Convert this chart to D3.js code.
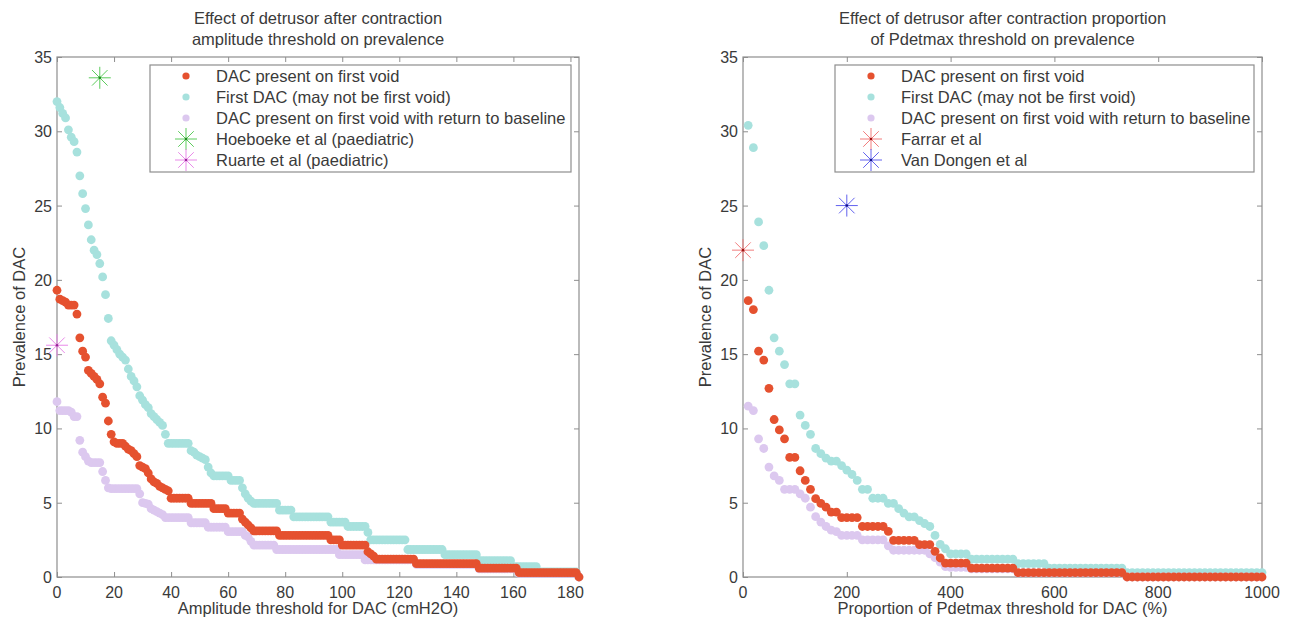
<!DOCTYPE html>
<html>
<head>
<meta charset="utf-8">
<script src="https://cdn.jsdelivr.net/npm/d3@7"></script>
<style>
  body { margin: 0; background: #fff; }
  svg { display: block; font-family: "Liberation Sans", Arial, sans-serif; }
</style>
</head>
<body>
<div id="container"></div>
<script>
// ---- data ----
const ampThresholds = d3.range(0, 184);   // cmH2O, 0..183
const redAmp = [
  19.3, 18.7, 18.6, 18.5, 18.3, 18.3, 18.3, 17.7, 16.1, 15.2,
  14.8, 13.9, 13.7, 13.5, 13.3, 13.0, 12.1, 11.7, 10.5, 9.6,
  9.1, 9.0, 9.0, 9.0, 8.8, 8.6, 8.5, 8.3, 8.1, 7.5,
  7.4, 7.3, 7.0, 6.6, 6.4, 6.3, 6.1, 6.0, 5.9, 5.8,
  5.3, 5.3, 5.3, 5.3, 5.3, 5.3, 5.3, 4.95, 4.95, 4.95,
  4.95, 4.95, 4.95, 4.95, 4.95, 4.6, 4.6, 4.6, 4.6, 4.6,
  4.3, 4.3, 4.3, 4.3, 4.3, 3.9, 3.7, 3.5, 3.3, 3.1,
  3.1, 3.1, 3.1, 3.1, 3.1, 3.1, 3.1, 3.1, 2.8, 2.8,
  2.8, 2.8, 2.8, 2.8, 2.8, 2.8, 2.8, 2.8, 2.8, 2.8,
  2.8, 2.8, 2.8, 2.8, 2.8, 2.8, 2.5, 2.5, 2.5, 2.5,
  2.15, 2.15, 2.15, 2.15, 2.15, 2.15, 2.15, 2.15, 2.15, 1.7,
  1.55, 1.4, 1.2, 1.2, 1.2, 1.2, 1.2, 1.2, 1.2, 1.2,
  1.2, 1.2, 1.2, 1.2, 1.2, 1.2, 0.9, 0.9, 0.9, 0.9,
  0.9, 0.9, 0.9, 0.9, 0.9, 0.9, 0.9, 0.9, 0.9, 0.9,
  0.9, 0.9, 0.9, 0.9, 0.9, 0.9, 0.9, 0.9, 0.6, 0.6,
  0.6, 0.6, 0.6, 0.6, 0.6, 0.6, 0.6, 0.6, 0.6, 0.6,
  0.6, 0.6, 0.3, 0.3, 0.3, 0.3, 0.3, 0.3, 0.3, 0.3,
  0.3, 0.3, 0.3, 0.3, 0.3, 0.3, 0.3, 0.3, 0.3, 0.3,
  0.3, 0.3, 0.3, 0
];
const cyanAmp = [
  32.0, 31.6, 31.2, 30.9, 30.1, 29.6, 29.3, 28.6, 27.0, 25.8,
  24.8, 23.7, 22.7, 22.0, 21.7, 21.1, 20.2, 19.0, 17.4, 15.9,
  15.6, 15.3, 15.0, 14.8, 14.6, 14.0, 13.5, 13.2, 12.8, 12.2,
  11.9, 11.6, 11.4, 11.0, 10.8, 10.6, 10.4, 10.2, 9.6, 9.0,
  9.0, 9.0, 9.0, 9.0, 9.0, 9.0, 9.0, 8.5, 8.4, 8.2,
  8.1, 8.0, 7.9, 7.4, 7.0, 6.8, 6.8, 6.8, 6.8, 6.8,
  6.8, 6.5, 6.5, 6.5, 6.5, 6.0, 5.6, 5.3, 5.1, 4.95,
  4.95, 4.95, 4.95, 4.95, 4.95, 4.95, 4.95, 4.95, 4.5, 4.5,
  4.5, 4.5, 4.5, 4.05, 4.05, 4.05, 4.05, 4.05, 4.05, 4.05,
  4.05, 4.05, 4.05, 4.05, 4.05, 4.05, 3.7, 3.7, 3.7, 3.7,
  3.7, 3.7, 3.4, 3.4, 3.4, 3.4, 3.4, 3.4, 3.4, 3.0,
  2.5, 2.5, 2.5, 2.5, 2.5, 2.5, 2.5, 2.5, 2.5, 2.5,
  2.5, 2.5, 2.5, 1.85, 1.85, 1.85, 1.85, 1.85, 1.85, 1.85,
  1.85, 1.85, 1.85, 1.85, 1.85, 1.85, 1.5, 1.5, 1.5, 1.5,
  1.5, 1.5, 1.5, 1.5, 1.5, 1.5, 1.5, 1.5, 1.1, 1.1,
  1.1, 1.1, 1.1, 1.1, 1.1, 1.1, 1.1, 1.1, 1.1, 1.1,
  0.7, 0.7, 0.7, 0.7, 0.7, 0.7, 0.7, 0.7, 0.7, 0.35,
  0.35, 0.35, 0.35, 0.35, 0.35, 0.35, 0.35, 0.35, 0.35, 0.35,
  0.35, 0.35, 0.35, 0
];
const purpleAmp = [
  11.8, 11.2, 11.2, 11.2, 11.2, 11.1, 10.8, 10.8, 9.2, 8.4,
  8.1, 7.8, 7.7, 7.7, 7.7, 7.7, 7.1, 6.5, 6.0, 5.95,
  5.95, 5.95, 5.95, 5.95, 5.95, 5.95, 5.95, 5.95, 5.95, 5.6,
  5.0, 4.95, 4.9, 4.6, 4.5, 4.4, 4.3, 4.2, 4.0, 4.0,
  4.0, 4.0, 4.0, 4.0, 4.0, 4.0, 4.0, 3.65, 3.65, 3.65,
  3.65, 3.65, 3.65, 3.35, 3.35, 3.35, 3.35, 3.35, 3.35, 3.35,
  3.05, 3.05, 3.05, 3.05, 3.05, 3.05, 2.8, 2.7, 2.4, 2.15,
  2.15, 2.15, 2.15, 2.15, 2.15, 2.15, 2.15, 1.85, 1.85, 1.85,
  1.85, 1.85, 1.85, 1.85, 1.85, 1.85, 1.85, 1.85, 1.85, 1.85,
  1.85, 1.85, 1.85, 1.85, 1.85, 1.85, 1.85, 1.85, 1.85, 1.5,
  1.5, 1.5, 1.5, 1.5, 1.5, 1.5, 1.5, 1.5, 1.15, 1.15,
  1.15, 1.15, 1.15, 1.15, 1.15, 1.15, 1.15, 1.15, 1.15, 1.15,
  1.15, 1.15, 1.15, 1.15, 1.15, 1.15, 0.85, 0.85, 0.85, 0.85,
  0.85, 0.85, 0.85, 0.85, 0.85, 0.85, 0.85, 0.85, 0.85, 0.85,
  0.85, 0.85, 0.85, 0.85, 0.85, 0.85, 0.85, 0.85, 0.55, 0.55,
  0.55, 0.55, 0.55, 0.55, 0.55, 0.55, 0.55, 0.55, 0.55, 0.55,
  0.55, 0.55, 0.25, 0.25, 0.25, 0.25, 0.25, 0.25, 0.25, 0.25,
  0.25, 0.25, 0.25, 0.25, 0.25, 0.25, 0.25, 0.25, 0.25, 0.25,
  0.25, 0.25, 0.25, 0
];

const pdetThresholds = d3.range(10, 1001, 10);   // % of Pdetmax, 10..1000
const redPdet = [
  18.6, 18.0, 15.2, 14.6, 12.7, 10.6, 9.9, 9.3, 8.05, 8.05,
  7.15, 6.5, 5.9, 5.27, 4.95, 4.7, 4.37, 4.37, 4.0, 4.0,
  4.0, 4.0, 3.4, 3.4, 3.4, 3.4, 3.4, 3.07, 2.47, 2.47,
  2.47, 2.47, 2.47, 2.18, 2.18, 2.18, 1.73, 1.28, 0.94, 0.94,
  0.94, 0.94, 0.94, 0.6, 0.6, 0.6, 0.6, 0.6, 0.6, 0.6,
  0.6, 0.6, 0.3, 0.3, 0.3, 0.3, 0.3, 0.3, 0.3, 0.3,
  0.3, 0.3, 0.3, 0.3, 0.3, 0.3, 0.3, 0.3, 0.3, 0.3,
  0.3, 0.3, 0.3, 0, 0, 0, 0, 0, 0, 0,
  0, 0, 0, 0, 0, 0, 0, 0, 0, 0,
  0, 0, 0, 0, 0, 0, 0, 0, 0, 0
];
const cyanPdet = [
  30.4, 28.9, 23.9, 22.3, 19.3, 16.1, 15.2, 14.3, 13.0, 13.0,
  10.9, 10.2, 9.6, 8.65, 8.3, 8.0, 7.8, 7.8, 7.5, 7.2,
  6.9, 6.5, 5.9, 5.9, 5.3, 5.3, 5.3, 4.95, 4.95, 4.6,
  4.3, 4.05, 4.05, 3.8, 3.6, 3.4, 2.8, 2.2, 1.9, 1.55,
  1.55, 1.55, 1.55, 1.2, 1.2, 1.2, 1.2, 1.2, 1.2, 1.2,
  1.2, 1.2, 0.9, 0.9, 0.9, 0.9, 0.9, 0.9, 0.6, 0.6,
  0.6, 0.6, 0.6, 0.6, 0.6, 0.6, 0.6, 0.6, 0.6, 0.6,
  0.6, 0.6, 0.6, 0.3, 0.3, 0.3, 0.3, 0.3, 0.3, 0.3,
  0.3, 0.3, 0.3, 0.3, 0.3, 0.3, 0.3, 0.3, 0.3, 0.3,
  0.3, 0.3, 0.3, 0.3, 0.3, 0.3, 0.3, 0.3, 0.3, 0.3
];
const purplePdet = [
  11.5, 11.2, 9.3, 8.65, 7.4, 6.8, 6.5, 5.9, 5.9, 5.9,
  5.6, 5.3, 4.7, 4.06, 3.7, 3.4, 3.15, 3.05, 2.8, 2.8,
  2.8, 2.8, 2.5, 2.5, 2.5, 2.5, 2.5, 2.1, 1.8, 1.8,
  1.8, 1.8, 1.8, 1.8, 1.8, 1.55, 1.3, 1.0, 0.7, 0.65,
  0.65, 0.65, 0.65, 0.55, 0.55, 0.55, 0.55, 0.55, 0.55, 0.55,
  0.55, 0.55, 0.28, 0.28, 0.28, 0.28, 0.28, 0.28, 0.28, 0.28,
  0.28, 0.28, 0.28, 0.28, 0.28, 0.28, 0.28, 0.28, 0.28, 0.28,
  0.28, 0.28, 0.28, 0, 0, 0, 0, 0, 0, 0,
  0, 0, 0, 0, 0, 0, 0, 0, 0, 0,
  0, 0, 0, 0, 0, 0, 0, 0, 0, 0
];

const seriesNames = [
  "DAC present on first void",
  "First DAC (may not be first void)",
  "DAC present on first void with return to baseline"
];
const yTicks = [0, 5, 10, 15, 20, 25, 30, 35];
const ampTicks = [0, 20, 40, 60, 80, 100, 120, 140, 160, 180];
const pdetTicks = [0, 200, 400, 600, 800, 1000];

// literature reference points
const ampRefs = [
  {name: "Hoeboeke et al (paediatric)", x: 15, y: 33.6, color: "#5ccc5c", dot: "#1a8a1a"},
  {name: "Ruarte et al (paediatric)", x: 0, y: 15.6, color: "#e98ae9", dot: "#9a209a"}
];
const pdetRefs = [
  {name: "Farrar et al", x: 0, y: 22, color: "#f27d7d", dot: "#a01010"},
  {name: "Van Dongen et al", x: 200, y: 25, color: "#6262ee", dot: "#10108a"}
];

const colors = {red: "#e5512f", cyan: "#a7e1dd", purple: "#dcc8ef"};
const axisColor = "#8e8e8e";
const textColor = "#3a3a3a";

const svg = d3.select("#container").append("svg")
    .attr("width", 1291)
    .attr("height", 620);

function star(g, cx, cy, r, color, dotColor) {
    const a = r * Math.SQRT1_2;
    g.append("path")
        .attr("d", `M${cx - r},${cy}H${cx + r}M${cx},${cy - r}V${cy + r}` +
                   `M${cx - a},${cy - a}L${cx + a},${cy + a}M${cx - a},${cy + a}L${cx + a},${cy - a}`)
        .attr("stroke", color)
        .attr("stroke-width", 1)
        .attr("fill", "none");
    g.append("circle")
        .attr("cx", cx).attr("cy", cy).attr("r", 1.3)
        .attr("fill", dotColor);
}

function panel(opts) {
    const {left, right, top, bottom} = opts;
    const x = d3.scaleLinear().domain(opts.xDomain).range([left, right]);
    const y = d3.scaleLinear().domain([0, 35]).range([bottom, top]);
    const g = svg.append("g");

    // ticks on all four sides, pointing inward
    const ax = (axis, tr) => g.append("g").attr("transform", tr).call(axis)
        .call(s => s.select(".domain").remove())
        .call(s => s.selectAll("line").attr("stroke", axisColor));
    ax(d3.axisTop(x).tickValues(opts.xTicks).tickSize(5).tickFormat(""), `translate(0,${bottom})`);
    ax(d3.axisBottom(x).tickValues(opts.xTicks).tickSize(5).tickFormat(""), `translate(0,${top})`);
    ax(d3.axisRight(y).tickValues(yTicks).tickSize(5).tickFormat(""), `translate(${left},0)`);
    ax(d3.axisLeft(y).tickValues(yTicks).tickSize(5).tickFormat(""), `translate(${right},0)`);

    // tick labels
    g.selectAll(".xl").data(opts.xTicks).enter().append("text")
        .attr("x", d => x(d)).attr("y", bottom + 21)
        .attr("text-anchor", "middle")
        .attr("font-size", 16).attr("fill", textColor)
        .text(d => d);
    g.selectAll(".yl").data(yTicks).enter().append("text")
        .attr("x", left - 5).attr("y", d => y(d) + 6)
        .attr("text-anchor", "end")
        .attr("font-size", 16).attr("fill", textColor)
        .text(d => d);

    g.append("rect")
        .attr("x", left).attr("y", top)
        .attr("width", right - left).attr("height", bottom - top)
        .attr("fill", "none").attr("stroke", axisColor).attr("stroke-width", 1.2);

    // dots: cyan, purple, then red on top
    const layers = [
        {vals: opts.cyan, color: colors.cyan},
        {vals: opts.purple, color: colors.purple},
        {vals: opts.red, color: colors.red}
    ];
    layers.forEach(l => {
        g.append("g").selectAll("circle")
            .data(opts.thresholds.map((t, i) => [t, l.vals[i]]))
            .enter().append("circle")
            .attr("cx", d => x(d[0]))
            .attr("cy", d => y(d[1]))
            .attr("r", 4.4)
            .attr("fill", l.color);
    });

    opts.refs.forEach(r => star(g, x(r.x), y(r.y), 11, r.color, r.dot));

    // titles and axis labels
    const cx = (left + right) / 2;
    opts.title.forEach((t, i) => {
        g.append("text")
            .attr("x", cx).attr("y", 24 + i * 21)
            .attr("text-anchor", "middle")
            .attr("font-size", 16.5).attr("fill", textColor)
            .text(t);
    });
    g.append("text")
        .attr("x", cx).attr("y", bottom + 37)
        .attr("text-anchor", "middle")
        .attr("font-size", 16.5).attr("fill", textColor)
        .text(opts.xLabel);
    g.append("text")
        .attr("transform", `translate(${left - 32},${(top + bottom) / 2}) rotate(-90)`)
        .attr("text-anchor", "middle")
        .attr("font-size", 16.5).attr("fill", textColor)
        .text("Prevalence of DAC");

    // legend
    const lg = g.append("g");
    lg.append("rect")
        .attr("x", opts.legendX).attr("y", 65)
        .attr("width", right - 8 - opts.legendX).attr("height", 107)
        .attr("fill", "#fff").attr("stroke", axisColor).attr("stroke-width", 1.2);
    const items = [
        {label: seriesNames[0], color: colors.red},
        {label: seriesNames[1], color: colors.cyan},
        {label: seriesNames[2], color: colors.purple}
    ].concat(opts.refs.map(r => ({label: r.name, ref: r})));
    items.forEach((it, i) => {
        const yy = 76 + i * 21;
        const mx = opts.legendX + 36;
        if (it.ref) {
            star(lg, mx, yy, 11, it.ref.color, it.ref.dot);
        } else {
            lg.append("circle").attr("cx", mx).attr("cy", yy).attr("r", 3.6).attr("fill", it.color);
        }
        lg.append("text")
            .attr("x", opts.legendX + 66).attr("y", yy + 6)
            .attr("font-size", 16.5).attr("fill", textColor)
            .text(it.label);
    });
}

panel({
    left: 57, right: 579, top: 57, bottom: 577,
    xDomain: [0, 183], xTicks: ampTicks,
    thresholds: ampThresholds, red: redAmp, cyan: cyanAmp, purple: purpleAmp,
    refs: ampRefs,
    title: ["Effect of detrusor after contraction", "amplitude threshold on prevalence"],
    xLabel: "Amplitude threshold for DAC (cmH2O)",
    legendX: 150
});
panel({
    left: 743, right: 1262, top: 57, bottom: 577,
    xDomain: [0, 1000], xTicks: pdetTicks,
    thresholds: pdetThresholds, red: redPdet, cyan: cyanPdet, purple: purplePdet,
    refs: pdetRefs,
    title: ["Effect of detrusor after contraction proportion", "of Pdetmax threshold on prevalence"],
    xLabel: "Proportion of Pdetmax threshold for DAC (%)",
    legendX: 835
});
</script>
</body>
</html>
